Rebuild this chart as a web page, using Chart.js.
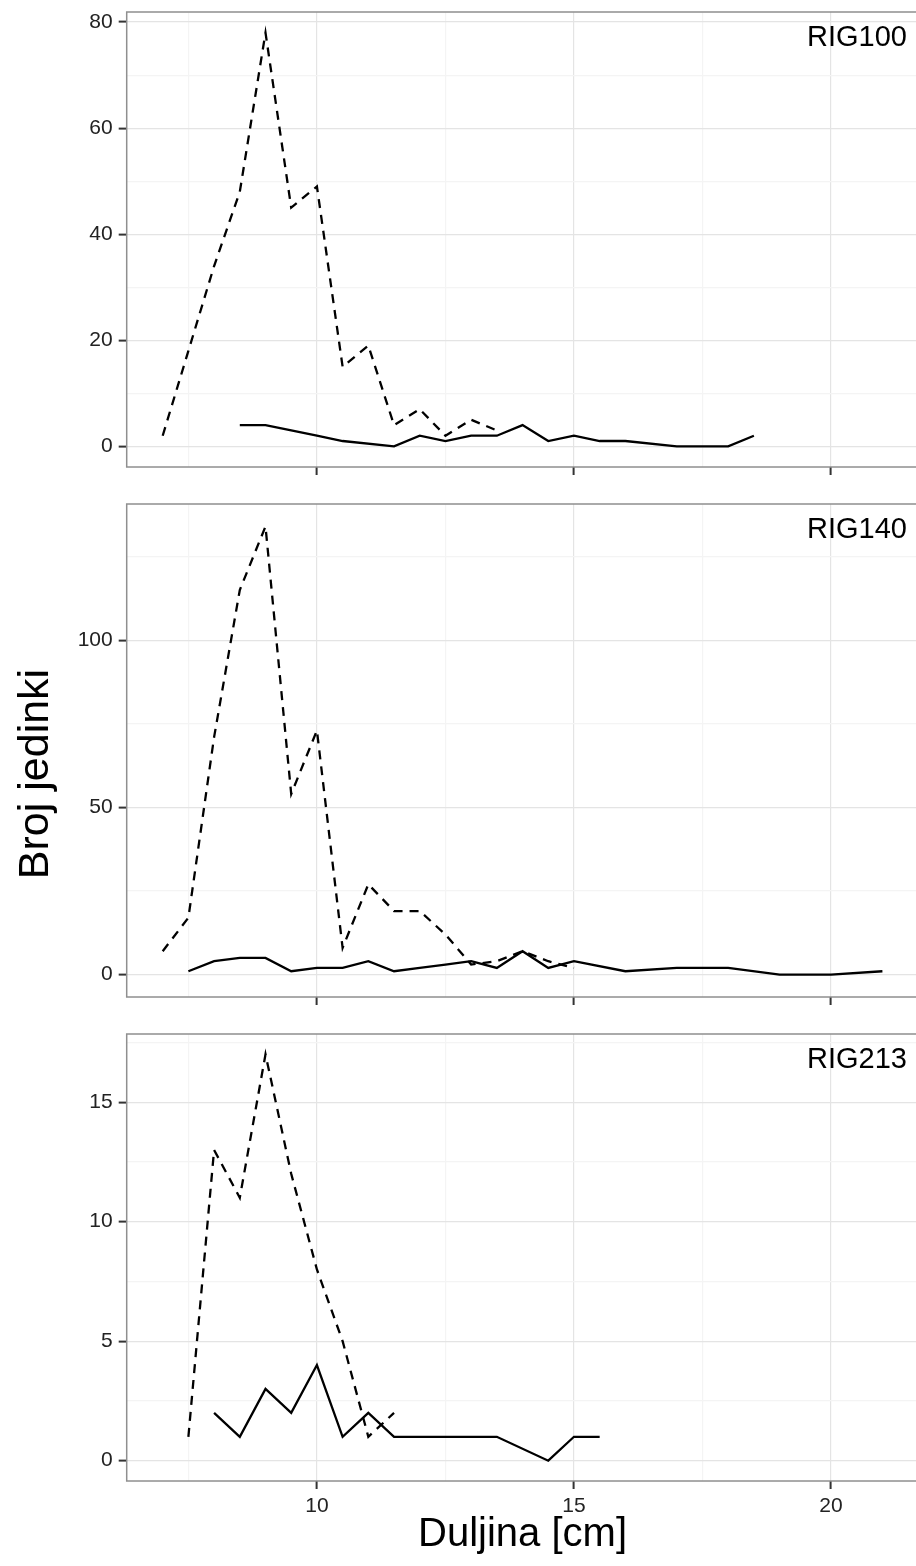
<!DOCTYPE html>
<html>
<head>
<meta charset="utf-8">
<script src="https://cdn.jsdelivr.net/npm/chart.js@4/dist/chart.umd.min.js"></script>
<style>
  html, body { margin: 0; padding: 0; background: #fff; overflow: hidden; width: 916px; height: 1566px; }
  #wrap { position: relative; width: 916px; height: 1566px; overflow: hidden; }
  canvas { position: absolute; left: 0; display: block; }
</style>
</head>
<body>
<div id="wrap">
  <canvas id="c1" width="920" height="490" style="top:0px"></canvas>
  <canvas id="c2" width="920" height="527" style="top:490px"></canvas>
  <canvas id="c3" width="920" height="549" style="top:1017px"></canvas>
</div>
<script>
// ---------- data ----------
const panelNames = ['RIG100', 'RIG140', 'RIG213'];

const rig100DashedLen = [7, 7.5, 8, 8.5, 9, 9.5, 10, 10.5, 11, 11.5, 12, 12.5, 13, 13.5];
const rig100DashedCnt = [2, 18, 34, 48, 78, 45, 49, 15, 19, 4, 7, 2, 5, 3];
const rig100SolidLen  = [8.5, 9, 9.5, 10, 10.5, 11.5, 12, 12.5, 13, 13.5, 14, 14.5, 15, 15.5, 16, 17, 17.5, 18, 18.5];
const rig100SolidCnt  = [4, 4, 3, 2, 1, 0, 2, 1, 2, 2, 4, 1, 2, 1, 1, 0, 0, 0, 2];

const rig140DashedLen = [7, 7.5, 8, 8.5, 9, 9.5, 10, 10.5, 11, 11.5, 12, 12.5, 13, 13.5, 14, 14.5, 15];
const rig140DashedCnt = [7, 17, 71, 115, 134, 54, 73, 8, 27, 19, 19, 12, 3, 4, 7, 4, 2];
const rig140SolidLen  = [7.5, 8, 8.5, 9, 9.5, 10, 10.5, 11, 11.5, 12, 12.5, 13, 13.5, 14, 14.5, 15, 16, 17, 18, 19, 20, 21];
const rig140SolidCnt  = [1, 4, 5, 5, 1, 2, 2, 4, 1, 2, 3, 4, 2, 7, 2, 4, 1, 2, 2, 0, 0, 1];

const rig213DashedLen = [7.5, 8, 8.5, 9, 9.5, 10, 10.5, 11, 11.5];
const rig213DashedCnt = [1, 13, 11, 17, 12, 8, 5, 1, 2];
const rig213SolidLen  = [8, 8.5, 9, 9.5, 10, 10.5, 11, 11.5, 12, 12.5, 13, 13.5, 14.5, 15, 15.5];
const rig213SolidCnt  = [2, 1, 3, 2, 4, 1, 2, 1, 1, 1, 1, 1, 0, 1, 1];

// tick labels and grid positions
const xTickLabels = [10, 15, 20];
const xGridValues = [7.5, 10, 12.5, 15, 17.5, 20];
const y100TickLabels = [0, 20, 40, 60, 80];
const y100GridValues = [0, 10, 20, 30, 40, 50, 60, 70, 80];
const y140TickLabels = [0, 50, 100];
const y140GridValues = [0, 25, 50, 75, 100, 125];
const y213TickLabels = [0, 5, 10, 15];
const y213GridValues = [0, 2.5, 5, 7.5, 10, 12.5, 15, 17.5];

const xTitle = 'Duljina [cm]';
const yTitle = 'Broj jedinki';

// ---------- styling ----------
const FONT = "'Liberation Sans', Arial, Helvetica, sans-serif";
const MAJOR_GRID = '#e4e4e4';
const MINOR_GRID = '#f4f4f4';
const TICK_COL = '#333333';
const NONE = 'rgba(0,0,0,0)';

const panelDeco = {
  id: 'panelDeco',
  afterDraw(chart, args, o) {
    const { ctx, chartArea: a } = chart;
    ctx.save();
    ctx.strokeStyle = '#8f8f8f';
    ctx.lineWidth = 1.5;
    ctx.strokeRect(a.left, a.top, a.right - a.left, a.bottom - a.top);
    ctx.fillStyle = '#000';
    ctx.font = '29px ' + FONT;
    ctx.textAlign = 'right';
    ctx.textBaseline = 'alphabetic';
    ctx.fillText(o.label, a.right - 11.5, a.top + 33.7);
    if (o.yTitle) {
      ctx.translate(o.yTitleX, o.yTitleY);
      ctx.rotate(-Math.PI / 2);
      ctx.textAlign = 'center';
      ctx.textBaseline = 'alphabetic';
      ctx.font = '43px ' + FONT;
      ctx.fillText(o.yTitle, 0, 0);
    }
    ctx.restore();
  }
};

function toPoints(xs, ys) { return xs.map((x, i) => ({ x: x, y: ys[i] })); }

function makePanel(id, cfg) {
  const isMajorX = v => xTickLabels.includes(v);
  const isMajorY = v => cfg.yLabels.includes(v);
  return new Chart(document.getElementById(id), {
    type: 'line',
    data: {
      datasets: [
        { data: toPoints(cfg.dLen, cfg.dCnt), borderColor: '#000', borderWidth: 2.3, borderDash: [9, 7],
          pointRadius: 0, tension: 0, fill: false, borderCapStyle: 'butt' },
        { data: toPoints(cfg.sLen, cfg.sCnt), borderColor: '#000', borderWidth: 2.3,
          pointRadius: 0, tension: 0, fill: false }
      ]
    },
    options: {
      responsive: false,
      animation: false,
      events: [],
      layout: { padding: { top: cfg.padTop, right: 1.6, bottom: 0, left: 0 } },
      plugins: {
        legend: { display: false },
        tooltip: { enabled: false },
        panelDeco: { label: cfg.label, yTitle: cfg.yTitle, yTitleX: cfg.yTitleX, yTitleY: cfg.yTitleY }
      },
      scales: {
        x: {
          type: 'linear', min: 6.3, max: 21.7,
          afterBuildTicks: s => { s.ticks = xGridValues.map(v => ({ value: v })); },
          afterFit: s => { s.height = cfg.xH; s.paddingLeft = 0; s.paddingRight = 0; },
          border: { display: false },
          grid: {
            color: c => (c.tick && isMajorX(c.tick.value)) ? MAJOR_GRID : MINOR_GRID,
            tickColor: c => (c.tick && isMajorX(c.tick.value)) ? TICK_COL : NONE,
            lineWidth: 1.2, tickLength: 8, tickWidth: 2
          },
          ticks: {
            autoSkip: false, maxRotation: 0, padding: 5, color: '#222',
            font: { family: FONT, size: 21 },
            callback: v => (cfg.showX && isMajorX(v)) ? String(v) : ''
          },
          title: { display: cfg.showX, text: xTitle, color: '#000',
                   font: { family: FONT, size: 40 }, padding: { top: 0, bottom: 7 } }
        },
        y: {
          type: 'linear', min: cfg.yMin, max: cfg.yMax,
          afterBuildTicks: s => { s.ticks = cfg.yGrid.map(v => ({ value: v })); },
          afterFit: s => { s.width = 126.7; s.paddingTop = 0; s.paddingBottom = 0; },
          border: { display: false },
          grid: {
            color: c => (c.tick && isMajorY(c.tick.value)) ? MAJOR_GRID : MINOR_GRID,
            tickColor: c => (c.tick && isMajorY(c.tick.value)) ? TICK_COL : NONE,
            lineWidth: 1.2, tickLength: 8, tickWidth: 2
          },
          ticks: {
            autoSkip: false, padding: 6, color: '#222',
            font: { family: FONT, size: 21 },
            callback: v => isMajorY(v) ? String(v) : ''
          }
        }
      }
    },
    plugins: [panelDeco]
  });
}

makePanel('c1', {
  label: panelNames[0], dLen: rig100DashedLen, dCnt: rig100DashedCnt, sLen: rig100SolidLen, sCnt: rig100SolidCnt,
  yMin: -3.9, yMax: 81.9, yLabels: y100TickLabels, yGrid: y100GridValues,
  padTop: 12, xH: 23, showX: false
});
makePanel('c2', {
  label: panelNames[1], dLen: rig140DashedLen, dCnt: rig140DashedCnt, sLen: rig140SolidLen, sCnt: rig140SolidCnt,
  yMin: -6.7, yMax: 140.7, yLabels: y140TickLabels, yGrid: y140GridValues,
  padTop: 14, xH: 20, showX: false,
  yTitle: yTitle, yTitleX: 48, yTitleY: 284
});
makePanel('c3', {
  label: panelNames[2], dLen: rig213DashedLen, dCnt: rig213DashedCnt, sLen: rig213SolidLen, sCnt: rig213SolidCnt,
  yMin: -0.85, yMax: 17.85, yLabels: y213TickLabels, yGrid: y213GridValues,
  padTop: 17, xH: 85, showX: true
});
</script>
</body>
</html>
